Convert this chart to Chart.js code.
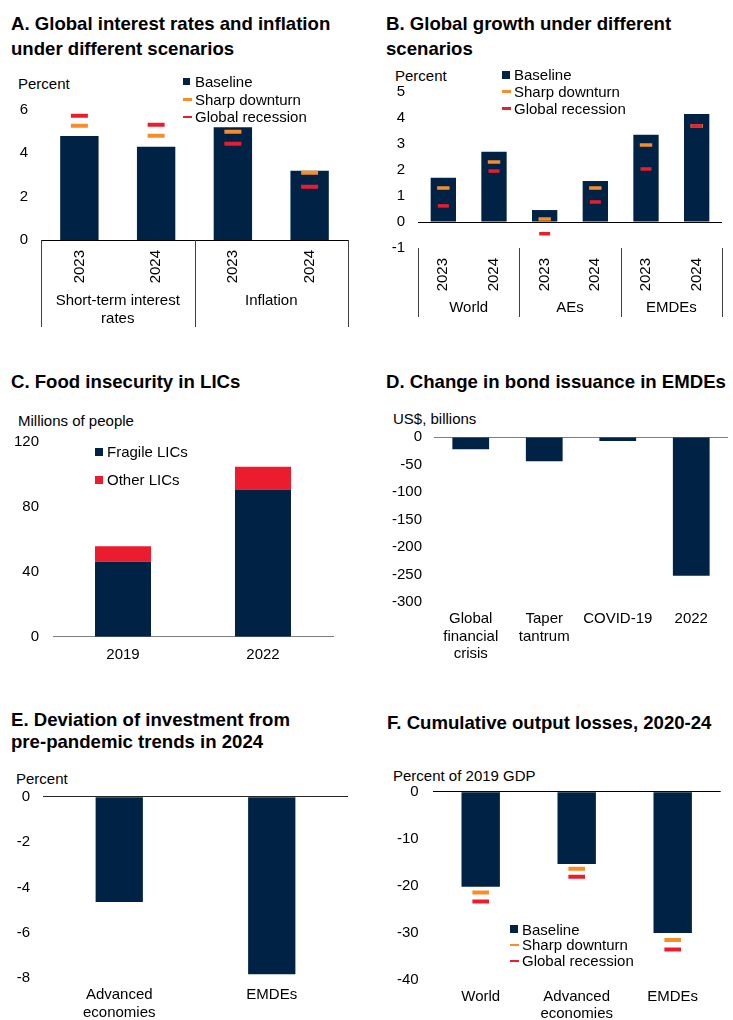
<!DOCTYPE html>
<html>
<head>
<meta charset="utf-8">
<script src="https://cdn.jsdelivr.net/npm/chart.js@4.4.1/dist/chart.umd.min.js"></script>
<style>
  body { margin: 0; width: 733px; height: 1020px; background: #fff; position: relative; overflow: hidden;
         font-family: "Liberation Sans", Arial, sans-serif; color: #000; }
  canvas { position: absolute; }
  .title { position: absolute; font-weight: bold; font-size: 18.6px; line-height: 25px; white-space: nowrap; }
  .unit, .leg { position: absolute; font-size: 15px; line-height: 18px; white-space: nowrap; }
</style>
</head>
<body>
<div class="title" style="left:11px;top:11px">A. Global interest rates and inflation<br>under different scenarios</div>
<div class="title" style="left:386px;top:11px">B. Global growth under different<br>scenarios</div>
<div class="title" style="left:11px;top:369px">C. Food insecurity in LICs</div>
<div class="title" style="left:386px;top:369px">D. Change in bond issuance in EMDEs</div>
<div class="title" style="left:11px;top:709px;line-height:22px">E. Deviation of investment from<br>pre-pandemic trends in 2024</div>
<div class="title" style="left:387px;top:710px">F. Cumulative output losses, 2020-24</div>

<div class="unit" style="left:18px;top:75px">Percent</div>
<div class="unit" style="left:395px;top:67px">Percent</div>
<div class="unit" style="left:18px;top:412px">Millions of people</div>
<div class="unit" style="left:393px;top:410px">US$, billions</div>
<div class="unit" style="left:16px;top:770px">Percent</div>
<div class="unit" style="left:393px;top:767px">Percent of 2019 GDP</div>

<canvas id="chartA" width="365" height="280" style="left:0;top:60px"></canvas>
<canvas id="chartB" width="363" height="270" style="left:370px;top:60px"></canvas>
<canvas id="chartC" width="365" height="280" style="left:0;top:400px"></canvas>
<canvas id="chartD" width="363" height="280" style="left:370px;top:400px"></canvas>
<canvas id="chartE" width="365" height="260" style="left:0;top:760px"></canvas>
<canvas id="chartF" width="363" height="260" style="left:370px;top:760px"></canvas>

<script>
// scenario names
const scenarios = ['Baseline', 'Sharp downturn', 'Global recession'];

// A. interest rates and inflation
const yearsA = ['2023', '2024', '2023', '2024'];
const groupsA = [['Short-term interest', 'rates'], 'Inflation'];
const baselineA = [4.8, 4.3, 5.2, 3.2];
const sharpA = [5.27, 4.81, 5.0, 3.1];
const recessionA = [5.74, 5.32, 4.44, 2.46];

// B. growth
const yearsB = ['2023', '2024', '2023', '2024', '2023', '2024'];
const groupsB = ['World', 'AEs', 'EMDEs'];
const baselineB = [1.7, 2.7, 0.46, 1.58, 3.36, 4.15];
const sharpB = [1.31, 2.31, 0.12, 1.31, 2.96, 3.69];
const recessionB = [0.62, 1.96, -0.45, 0.77, 2.04, 3.69];

// C. food insecurity
const yearsC = ['2019', '2022'];
const seriesC = ['Fragile LICs', 'Other LICs'];
const fragileC = [46.2, 90.7];
const otherC = [9.6, 14.1];

// D. bond issuance
const eventsD = [['Global', 'financial', 'crisis'], ['Taper', 'tantrum'], 'COVID-19', '2022'];
const issuanceD = [-22.3, -44, -7.2, -251.8];

// E. investment deviation
const groupsE = [['Advanced', 'economies'], 'EMDEs'];
const deviationE = [-4.64, -7.82];

// F. output losses
const groupsF = ['World', ['Advanced', 'economies'], 'EMDEs'];
const baselineF = [-20.2, -15.35, -30.0];
const sharpF = [-21.4, -16.35, -31.5];
const recessionF = [-23.35, -18.05, -33.5];

const NAVY = '#002345', ORANGE = '#F78D28', RED = '#EB1C2D';

Chart.defaults.font.family = '"Liberation Sans", Arial, sans-serif';
Chart.defaults.font.size = 15;
Chart.defaults.color = '#000';
Chart.defaults.animation = false;
Chart.defaults.events = [];
Chart.defaults.responsive = false;
Chart.defaults.plugins.legend.display = false;
Chart.defaults.plugins.tooltip.enabled = false;

const fixW = w => s => { s.width = w; };
const fixH = h => s => { s.height = h; };
const noGrid = { display: false, drawTicks: false };
const zeroGrid = col => ({ drawTicks: false, color: c => (c.tick && c.tick.value === 0 ? col : 'rgba(0,0,0,0)') });

function bars(label, data, color, pct) {
  return { label, data, backgroundColor: color, borderWidth: 0, barPercentage: pct, categoryPercentage: 1, order: 3 };
}
function marks(label, data, color, r, w, order) {
  return { type: 'line', label, data, showLine: false, borderColor: color, backgroundColor: color,
    pointStyle: 'line', pointRadius: r, pointBorderWidth: w, pointBorderColor: color, order };
}

// vertical separators under grouped category axes
const groupLines = {
  id: 'groupLines',
  afterDraw(chart, args, opts) {
    const { ctx, chartArea, scales: { x } } = chart;
    ctx.save();
    ctx.strokeStyle = '#404040';
    ctx.lineWidth = 1;
    ctx.beginPath();
    opts.cuts.forEach(k => {
      const px = Math.round(x.getPixelForValue(k - 0.5)) + 0.5;
      ctx.moveTo(px, chartArea.bottom);
      ctx.lineTo(px, opts.end);
    });
    ctx.stroke();
    ctx.restore();
  }
};

function htmlLegend(chart, left, top, gap, box) {
  chart.data.datasets.forEach((ds, i) => {
    const row = document.createElement('div');
    row.className = 'leg';
    row.style.left = (left + 12) + 'px';
    row.style.top = (top + i * gap - 8.8) + 'px';
    row.textContent = ds.label;
    const m = document.createElement('span');
    const isBox = ds.type !== 'line';
    const w = isBox ? box : 8.5, h = isBox ? box : 2.6;
    m.style.cssText = 'position:absolute;left:-12px;top:' + (8.8 - h / 2) + 'px;width:' + w + 'px;height:' + h + 'px;background:' + ds.backgroundColor;
    row.appendChild(m);
    document.body.appendChild(row);
  });
}

// A
const chartA = new Chart(document.getElementById('chartA'), {
  type: 'bar',
  data: {
    labels: yearsA,
    datasets: [
      bars(scenarios[0], baselineA, NAVY, 0.5),
      marks(scenarios[1], sharpA, ORANGE, 8.5, 4, 2),
      marks(scenarios[2], recessionA, RED, 8.5, 4, 1)
    ]
  },
  options: {
    layout: { padding: { top: 50, right: 17, left: 0, bottom: 0 } },
    scales: {
      x: { grid: noGrid, border: { color: '#000' }, ticks: { minRotation: 90, maxRotation: 90, padding: 10, autoSkip: false }, afterFit: fixH(50) },
      x2: { type: 'category', labels: groupsA, position: 'bottom', weight: 1, offset: true, grid: noGrid, border: { display: false },
            ticks: { padding: 2, maxRotation: 0, autoSkip: false, font: { lineHeight: 1.18 } }, afterFit: fixH(50) },
      y: { min: 0, max: 6, ticks: { stepSize: 2, padding: 13 }, grid: noGrid, border: { display: false }, afterFit: fixW(41) }
    },
    plugins: { groupLines: { cuts: [0, 2, 4], end: 267 } }
  },
  plugins: [groupLines]
});
htmlLegend(chartA, 183, 81.7, 17.7, 7);

// B
const chartB = new Chart(document.getElementById('chartB'), {
  type: 'bar',
  data: {
    labels: yearsB,
    datasets: [
      bars(scenarios[0], baselineB, NAVY, 0.5),
      marks(scenarios[1], sharpB, ORANGE, 6.2, 3.5, 2),
      marks(scenarios[2], recessionB, RED, 5.5, 3.5, 1)
    ]
  },
  options: {
    layout: { padding: { top: 32, right: 11, left: 0, bottom: 0 } },
    scales: {
      x: { grid: noGrid, border: { display: false }, ticks: { minRotation: 90, maxRotation: 90, padding: 10, autoSkip: false }, afterFit: fixH(45) },
      x2: { type: 'category', labels: groupsB, position: 'bottom', weight: 1, offset: true, grid: noGrid, border: { display: false },
            ticks: { padding: 6, maxRotation: 0, autoSkip: false }, afterFit: fixH(37) },
      y: { min: -1, max: 5, ticks: { stepSize: 1, padding: 13 }, grid: zeroGrid('#000'), border: { display: false }, afterFit: fixW(48) }
    },
    plugins: { groupLines: { cuts: [0, 2, 4, 6], end: 257 } }
  },
  plugins: [groupLines]
});
htmlLegend(chartB, 502, 75, 16.7, 8);

// C
const chartC = new Chart(document.getElementById('chartC'), {
  type: 'bar',
  data: {
    labels: yearsC,
    datasets: [
      bars(seriesC[0], fragileC, NAVY, 0.4),
      bars(seriesC[1], otherC, RED, 0.4)
    ]
  },
  options: {
    layout: { padding: { top: 42, right: 32, left: 0, bottom: 0 } },
    scales: {
      x: { stacked: true, grid: noGrid, border: { color: '#7f7f7f' }, ticks: { padding: 9, maxRotation: 0 }, afterFit: fixH(43.3) },
      y: { stacked: true, min: 0, max: 120, ticks: { stepSize: 40, padding: 14 }, grid: noGrid, border: { display: false }, afterFit: fixW(53) }
    }
  }
});
htmlLegend(chartC, 95, 451.7, 28.3, 8);

// D
new Chart(document.getElementById('chartD'), {
  type: 'bar',
  data: {
    labels: eventsD,
    datasets: [bars('Change in bond issuance', issuanceD, NAVY, 0.5)]
  },
  options: {
    layout: { padding: { top: 37, right: 5, left: 0, bottom: 0 } },
    scales: {
      x: { grid: noGrid, border: { display: false }, ticks: { padding: 7.7, maxRotation: 0, autoSkip: false, font: { lineHeight: 1.18 } }, afterFit: fixH(77.7) },
      y: { min: -300, max: 0, ticks: { stepSize: 50, padding: 12 }, grid: zeroGrid('#7f7f7f'), border: { display: false }, afterFit: fixW(64) }
    }
  }
});

// E
new Chart(document.getElementById('chartE'), {
  type: 'bar',
  data: {
    labels: groupsE,
    datasets: [bars('Deviation of investment', deviationE, NAVY, 0.31)]
  },
  options: {
    layout: { padding: { top: 36.7, right: 17, left: 0, bottom: 0 } },
    scales: {
      x: { grid: noGrid, border: { display: false }, ticks: { padding: 7.7, maxRotation: 0, autoSkip: false, font: { lineHeight: 1.2 } }, afterFit: fixH(41.7) },
      y: { min: -8, max: 0, ticks: { stepSize: 2, padding: 13 }, grid: zeroGrid('#262626'), border: { display: false }, afterFit: fixW(43) }
    }
  }
});

// F
const chartF = new Chart(document.getElementById('chartF'), {
  type: 'bar',
  data: {
    labels: groupsF,
    datasets: [
      bars(scenarios[0], baselineF, NAVY, 0.4),
      marks(scenarios[1], sharpF, ORANGE, 8.3, 4, 2),
      marks(scenarios[2], recessionF, RED, 8.3, 4, 1)
    ]
  },
  options: {
    layout: { padding: { top: 31.7, right: 6.3, left: 0, bottom: 0 } },
    scales: {
      x: { grid: noGrid, border: { display: false }, ticks: { padding: 8.3, maxRotation: 0, autoSkip: false, font: { lineHeight: 1.12 } }, afterFit: fixH(40) },
      y: { min: -40, max: 0, ticks: { stepSize: 10, padding: 14 }, grid: zeroGrid('#000'), border: { display: false }, afterFit: fixW(62.7) }
    }
  }
});
htmlLegend(chartF, 510, 929.3, 15.8, 8);
</script>
</body>
</html>
